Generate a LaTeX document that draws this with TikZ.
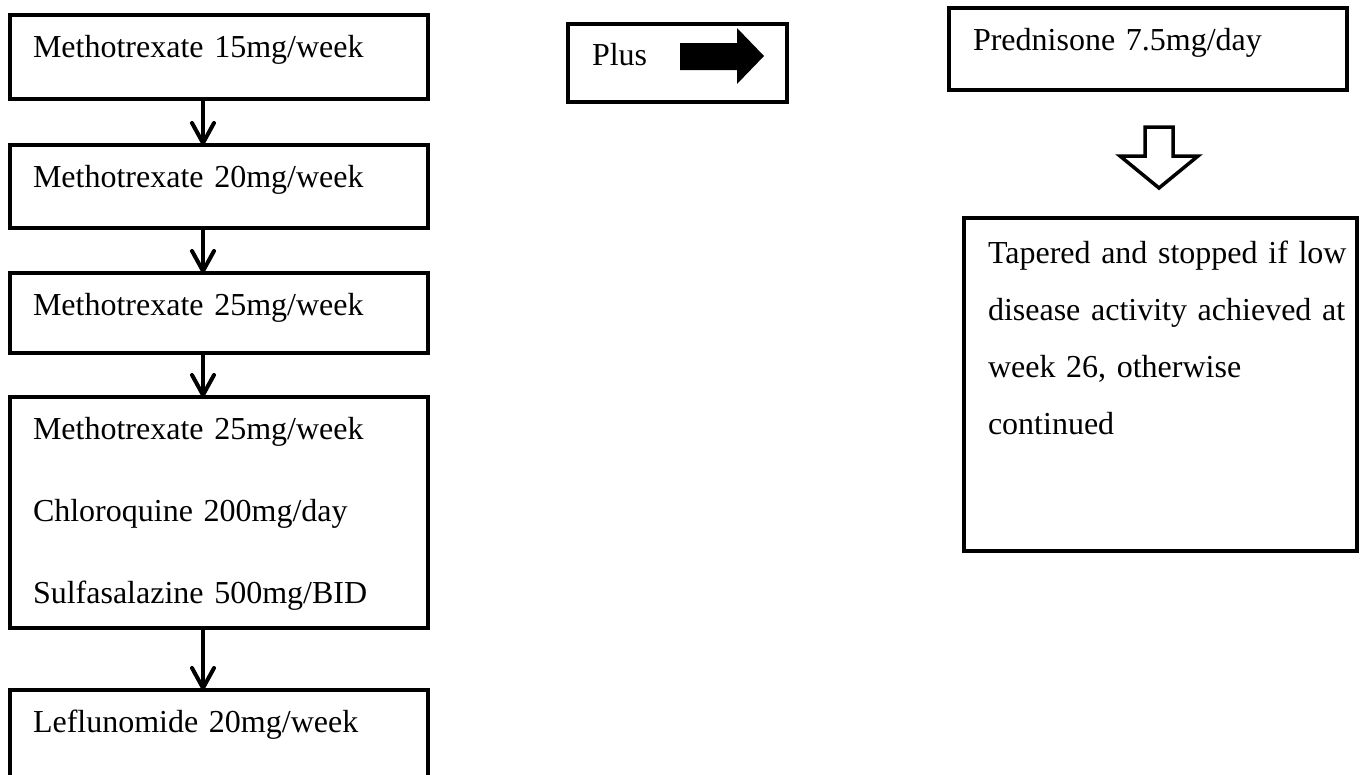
\documentclass[tikz,border=0pt]{standalone}
\usepackage{fontspec}
\setmainfont{Liberation Serif}
\usepackage{tikz}
\usetikzlibrary{arrows.meta}

\begin{document}
\begin{tikzpicture}[
   x=1pt, y=-1pt,
   drugbox/.style={rectangle, draw=black, line width=4pt, anchor=north west,
                   inner xsep=23pt, inner ysep=0pt, outer sep=0pt, align=left,
                   text height=42pt, font=\fontsize{32}{57}\selectfont},
   sidebox/.style={drugbox, inner xsep=24pt},
   flowarrow/.style={->, >={Straight Barb[length=20pt, width=22pt, round]},
                     line width=4pt}
  ]

  \useasboundingbox (0, 0) rectangle (1368, 774);

  % Left column
  \node (mtxA) at (10, 15)  [drugbox, text width=372pt, text depth=42pt] {Methotrexate 15mg/week};
  \node (mtxB) at (10, 145) [drugbox, text width=372pt, text depth=41pt] {Methotrexate 20mg/week};
  \node (mtxC) at (10, 273) [drugbox, text width=372pt, text depth=38pt] {Methotrexate 25mg/week};
  \node (combo) at (10, 397) [drugbox, text width=372pt, text depth=189pt]
    {Methotrexate 25mg/week\\[25pt]
     Chloroquine 200mg/day\\[25pt]
     Sulfasalazine 500mg/BID};
  \node (lef) at (10, 690) [drugbox, text width=372pt, text depth=46pt] {Leflunomide 20mg/week};

  \foreach \B/\E in {mtxA/mtxB, mtxB/mtxC, mtxC/combo, combo/lef} {
    \draw[flowarrow] ([xshift=-16pt]\B.south) -- ([xshift=-16pt]\E.north);
  }

  % Plus box
  \node (plus) at (568, 24) [sidebox, text width=171pt, text height=41pt, text depth=37pt] {Plus};
  \fill[black] (680, 43) -- (737, 43) -- (737, 28) -- (764, 56) -- (737, 84)
    -- (737, 70) -- (680, 70) -- cycle;

  % Right column
  \node (pred) at (949, 8) [sidebox, text width=350pt, text depth=40pt] {Prednisone 7.5mg/day};
  \draw[line width=3.5pt] (1145, 127) -- (1173, 127) -- (1173, 156) -- (1198, 156)
    -- (1159, 188) -- (1120, 156) -- (1145, 156) -- cycle;
  \node (taper) at (964, 218) [sidebox, text width=345pt, text height=45pt, text depth=288pt]
    {\mbox{Tapered and stopped if low}\\
     \mbox{disease activity achieved at}\\
     week 26, otherwise\\
     continued};

\end{tikzpicture}
\end{document}
